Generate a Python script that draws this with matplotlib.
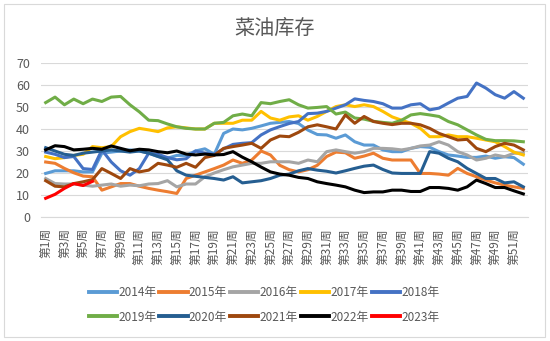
import matplotlib
matplotlib.use("Agg")
import matplotlib.pyplot as plt
from matplotlib.patches import Rectangle

plt.rcParams['font.family'] = ['Noto Sans CJK SC', 'DejaVu Sans']

weeks = list(range(1, 53))
week_labels = [f"第{w}周" for w in weeks]

s2014 = [19.8, 21, 21, 21, 20.5, 20.5, 29, 29.5, 30, 30.5, 30, 29, 27.5, 26.7, 28, 28,
         30, 31, 28.5, 38, 40, 39.6, 40.3, 41.4, 42.6, 43, 43.4, 42.5, 39.5, 37.5, 37.3, 35.8,
         37.3, 34.2, 32.7, 32.7, 30.5, 29.7, 29.7, 31.2, 32, 31.7, 29.7, 28.2, 27.7, 27.1,
         27.1, 27.7, 26.7, 27.4, 27, 24]
s2015 = [25, 24.4, 22.1, 20.1, 18.6, 18.3, 12.2, 13.7, 15.2, 15.2, 14, 13, 12.2, 11.5, 10.7,
         17.5, 19, 20.5, 22, 23.6, 25.9, 24.4, 25.9, 30, 28.2, 23.5, 21.5, 20.5, 21.5, 23.5,
         27.5, 29.5, 29.2, 26.7, 27.7, 29, 26.7, 25.9, 25.9, 25.9, 19.8, 19.8, 19.5, 19, 22.1,
         19.8, 18.3, 16.8, 15.5, 14.5, 13.7, 13]
s2016 = [17.5, 15.2, 15, 15, 14.5, 14, 14.5, 15, 14, 14.5, 14.2, 15, 15.2, 16.5, 13.7, 15,
         15, 18.3, 20, 21.5, 22.8, 23.6, 24.4, 24.4, 25.1, 25.1, 25.1, 24.4, 25.9, 25.1, 29.7,
         30.5, 29.7, 29, 29.7, 31.2, 31.2, 31, 30.5, 31.2, 32.3, 32.7, 34.2, 32.7, 29.7, 28.2,
         25.9, 26.7, 28.2, 27.4, 29, 29]
s2017 = [27.5, 26.5, 27, 28, 28.5, 32, 31.5, 32, 36.5, 38.8, 40.3, 39.6, 38.8, 40.5, 41, 40.5,
         40, 40, 42.6, 42.6, 42.6, 44, 44, 48, 45, 44, 45.5, 46, 44, 45.7, 48, 50.2, 51, 50.2,
         51, 50.2, 48, 45.5, 44, 42.6, 40.3, 36.5, 36.5, 37.3, 36.5, 36.5, 35.8, 35, 34.2, 32,
         29.5, 28.2]
s2018 = [29.5, 28.5, 27, 27.5, 22, 21.6, 30.5, 25, 21, 19, 22, 29, 28.5, 27, 26, 26.5, 30, 29,
         28.5, 31, 33, 33.5, 33.8, 37.3, 39.6, 41.1, 42.5, 43.4, 47, 47.2, 48, 49.5, 51, 53.7,
         53, 52.5, 51.5, 49.5, 49.5, 51, 51.5, 48.7, 49.5, 51.8, 54, 54.8, 60.9, 58.6, 55.6,
         54, 57, 54]
s2019 = [52, 54.5, 51, 53.6, 51.5, 53.6, 52.5, 54.5, 54.8, 51, 47.8, 44, 43.8, 42.3, 41, 40.3,
         40, 40, 42.6, 43, 46, 46.8, 46, 52, 51.5, 52.5, 53.3, 51, 49.5, 49.8, 50.2, 46.8, 47.7,
         45, 44.5, 43.5, 43, 42.6, 44, 46.4, 47, 46.4, 45.7, 43.4, 41.9, 39.6, 37.3, 35.3, 34.7,
         34.7, 34.6, 34.2]
s2020 = [31.5, 30, 28.5, 28, 29, 29.5, 30, 30.5, 30, 29.5, 30, 29, 27.5, 26, 21, 19, 18.5, 18,
         17.5, 16.8, 18.3, 15.5, 16, 16.5, 17.5, 19, 19.5, 21, 22, 21.3, 20.8, 20, 21, 22.1,
         23.1, 23.6, 21.6, 20, 19.8, 19.8, 19.8, 29.7, 29, 26.7, 25.1, 22.1, 19.8, 17.5, 17.5,
         15.5, 16, 13.7]
s2021 = [16.5, 14, 13.7, 15.2, 16, 17, 22, 19.8, 17.5, 22, 20.5, 21.3, 24.4, 23.6, 22.6, 24.4,
         22.6, 27, 28, 31.2, 32, 32.7, 33.5, 31.2, 35, 36.8, 36.5, 38.5, 41, 41.9, 41, 40,
         46.4, 42.6, 45.7, 43.4, 42.6, 42, 42.6, 42.6, 41.9, 40.3, 38, 36.5, 35, 35.3, 31.2,
         29.7, 32, 33.5, 32.7, 30.5]
s2022 = [30.5, 32.4, 32, 30.5, 30.8, 31.2, 30.8, 32.3, 31.2, 30.1, 30.8, 30.5, 29.7, 29.2, 30,
         28.6, 28.2, 28.6, 28.2, 28.4, 29.7, 27.2, 25.1, 22.7, 20.5, 19.5, 19, 18, 17.5, 16,
         15.2, 14.5, 13.7, 12.2, 11.1, 11.4, 11.4, 12.2, 12.2, 11.6, 11.6, 13.4, 13.4, 13,
         12.2, 13.7, 16.8, 15.2, 13.4, 13.4, 11.9, 10.5]
s2023 = [8.5, 10.3, 13, 15.2, 14.3, 16.2]

series = [
    ("2014年", s2014, "#5B9BD5"),
    ("2015年", s2015, "#ED7D31"),
    ("2016年", s2016, "#A5A5A5"),
    ("2017年", s2017, "#FFC000"),
    ("2018年", s2018, "#4472C4"),
    ("2019年", s2019, "#70AD47"),
    ("2020年", s2020, "#255E91"),
    ("2021年", s2021, "#9E480E"),
    ("2022年", s2022, "#000000"),
    ("2023年", s2023, "#FF0000"),
]

fig = plt.figure(figsize=(5.5, 3.41), dpi=100)
ax = fig.add_axes([41/550, 1-217/341, 487/550, 154/341])

lines = []
for name, vals, col in series:
    ln, = ax.plot(weeks[:len(vals)], vals, color=col, lw=2.2, label=name,
                  solid_joinstyle='round')
    lines.append(ln)

ax.set_ylim(0, 70)
ax.set_yticks(range(0, 71, 10))
ax.set_xlim(0.5, 52.5)
ax.set_xticks(weeks[::2])
ax.set_xticklabels(week_labels[::2], rotation=90, fontsize=8.5, color="#595959")
ax.tick_params(axis='both', length=0)
ax.tick_params(axis='y', labelsize=9, labelcolor="#595959", pad=8)
ax.tick_params(axis='x', pad=8)
ax.grid(axis='y', color="#D9D9D9", lw=0.8)
ax.set_axisbelow(True)
for side in ['top', 'right', 'left']:
    ax.spines[side].set_visible(False)
ax.spines['bottom'].set_color("#D9D9D9")
ax.spines['bottom'].set_linewidth(0.8)

fig.text(275/550, 1-28/341, "菜油库存", ha='center', va='center', fontsize=14.5,
         color="#595959")

# legend filled row by row (matplotlib fills column by column)
order = [0, 5, 1, 6, 2, 7, 3, 8, 4, 9]
handles = [lines[i] for i in order]
labels = [series[i][0] for i in order]
leg = fig.legend(handles, labels, loc='center', bbox_to_anchor=(264/550, 1-305/341), ncol=5,
                 frameon=False, fontsize=8.5, handlelength=2.4, columnspacing=0.25,
                 handletextpad=0.1, labelspacing=0.95)
for t in leg.get_texts():
    t.set_color("#595959")
for h in leg.get_lines():
    h.set_linewidth(2.8)

fig.patches.append(Rectangle((4/550, 4/341), 541/550, 333/341, transform=fig.transFigure,
                             fill=False, edgecolor="#D9D9D9", lw=0.8))

fig.savefig("out.png", dpi=100)
